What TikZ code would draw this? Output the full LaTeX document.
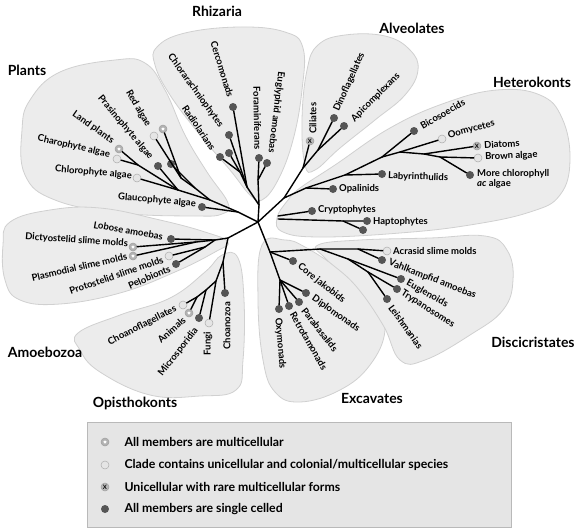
\documentclass[tikz,border=0pt]{standalone}
\usepackage{fontspec}
\setmainfont{Lato}
\usepackage{tikz}
\usetikzlibrary{shapes.geometric}
\definecolor{blob}{RGB}{236,236,236}
\definecolor{blobedge}{RGB}{208,208,208}
\definecolor{dot}{RGB}{85,85,85}
\definecolor{legendbg}{RGB}{229,229,229}
\tikzstyle{clade} = [fill=blob, draw=blobedge, line width=0.8pt]
\tikzstyle{branch} = [line width=1.4pt, line join=round, line cap=round]
\tikzstyle{single} = [circle, fill=dot, inner sep=0pt, minimum size=8pt]
\tikzstyle{mixed} = [circle, fill=gray!20, draw=gray!65, line width=0.5pt,
                 inner sep=0pt, minimum size=8pt]
\tikzstyle{multi} = [circle, fill=gray!60, draw=gray!75, line width=0.5pt,
                 inner sep=0pt, minimum size=8pt,
                 path picture={\node[star, star points=5, fill=white, inner sep=0pt,
                 minimum size=3.5pt] at (path picture bounding box.center) {};}]
\tikzstyle{rare} = [circle, fill=gray!55, draw=gray!75, line width=0.5pt,
                 inner sep=0pt, minimum size=8pt,
                 font=\fontsize{6}{6}\selectfont\bfseries]
\tikzstyle{lab} = [font=\fontsize{9.5}{10}\selectfont\bfseries, inner sep=1pt]
\tikzstyle{group} = [font=\fontsize{14}{15}\selectfont\bfseries]
\tikzstyle{key} = [font=\fontsize{12.3}{13}\selectfont\bfseries, anchor=west]

\begin{document}
\begin{tikzpicture}[x=1pt,y=-1pt]
\useasboundingbox (0,0) rectangle (583,531);

% clade backgrounds
\path [clade] plot[smooth cycle, tension=0.7] coordinates {(60,72) (115,60) (145,63)
    (165,90) (185,135) (207,172) (228,203) (222,214) (195,216) (120,213) (55,200)
    (25,175) (22,130) (30,100)};
\path [clade] plot[smooth cycle, tension=0.7] coordinates {(157,47) (185,33) (240,27)
    (285,32) (303,48) (302,90) (293,140) (278,180) (262,200) (250,195) (230,170)
    (200,135) (170,95) (155,65)};
\path [clade] plot[smooth cycle, tension=0.7] coordinates {(307,70) (318,45) (345,35)
    (385,36) (410,50) (418,70) (405,95) (375,120) (340,148) (315,170) (305,165)
    (302,120)};
\path [clade] plot[smooth cycle, tension=0.7] coordinates {(288,200) (300,188) (335,165)
    (390,128) (445,103) (497,90) (540,95) (562,118) (570,160) (560,195) (530,212)
    (470,225) (400,233) (320,237) (283,232) (277,218)};
\path [clade] plot[smooth cycle, tension=0.7] coordinates {(10,222) (50,210) (100,208)
    (160,220) (205,232) (228,242) (215,252) (175,272) (120,293) (60,304) (20,300)
    (5,280) (3,245)};
\path [clade] plot[smooth cycle, tension=0.7] coordinates {(78,333) (120,315) (170,298)
    (205,272) (222,255) (238,258) (244,300) (243,360) (236,390) (200,396) (150,395)
    (100,372) (80,350)};
\path [clade] plot[smooth cycle, tension=0.7] coordinates {(262,245) (285,240) (305,247)
    (340,270) (375,300) (385,330) (370,365) (340,390) (300,402) (275,392) (263,360)
    (258,300)};
\path [clade] plot[smooth cycle, tension=0.7] coordinates {(318,245) (360,240) (430,238)
    (485,236) (507,250) (513,280) (503,310) (470,335) (425,360) (400,360) (383,325)
    (355,285) (325,258)};

% group names
\node [group] (tplants) at (27,70) {Plants};
\node [group] (trhiz) at (217,11) {Rhizaria};
\node [group] (talv) at (412,28) {Alveolates};
\node [group] (thet) at (532,82) {Heterokonts};
\node [group] (tamoe) at (45,352) {Amoebozoa};
\node [group] (topis) at (135,403) {Opisthokonts};
\node [group] (texc) at (372,398) {Excavates};
\node [group] (tdisc) at (533,342) {Discicristates};

% inner points of the tree
\coordinate (root) at (258,222);
\coordinate (pl0) at (238,212);
\coordinate (plj) at (210,200);
\coordinate (rdj) at (195,188);
\coordinate (redj) at (181,178);
\coordinate (grn2) at (178,190);
\coordinate (grn1) at (138,165);
\coordinate (rh0) at (259,205);
\coordinate (rhf) at (258,180);
\coordinate (rhc) at (247,187);
\coordinate (rhr) at (240,172);
\coordinate (sar) at (284,198);
\coordinate (al0) at (303,168);
\coordinate (al1) at (318,150);
\coordinate (ht0) at (306,188);
\coordinate (ht1) at (345,175);
\coordinate (ht2) at (382,157);
\coordinate (ht3) at (400,152);
\coordinate (ht4) at (424,154);
\coordinate (ht5) at (440,157);
\coordinate (crb) at (278,216);
\coordinate (hpb) at (278,219);
\coordinate (hpj) at (343,221);
\coordinate (uni) at (228,238);
\coordinate (am0) at (215,240);
\coordinate (am1) at (196,242);
\coordinate (am2) at (205,247);
\coordinate (op0) at (223,262);
\coordinate (op1) at (216,281);
\coordinate (op2) at (206,290);
\coordinate (op3) at (197,297);
\coordinate (ex0) at (270,252);
\coordinate (ex1) at (280,280);
\coordinate (dc1) at (320,249);
\coordinate (dc2) at (358,249);
\coordinate (dc3) at (348,259);
\coordinate (dc4) at (368,272);

% leaves
\node [multi] (redS) at (163,129) {};
\node [mixed] (red) at (154,136) {};
\node [single] (prasA) at (158,166) {};
\node [single] (prasB) at (171,164) {};
\node [multi] (land) at (119,149) {};
\node [mixed] (charo) at (117,159) {};
\node [mixed] (chloro) at (137,178) {};
\node [single] (glauco) at (202,207) {};

\node [single] (cerco) at (233,107) {};
\node [single] (chlor) at (229,135) {};
\node [single] (radA) at (220,157) {};
\node [single] (radB) at (229,153) {};
\node [single] (foram) at (259,158) {};
\node [single] (eugly) at (267,163) {};

\node [rare] (cilia) at (310,141) {X};
\node [single] (dino) at (334,118) {};
\node [single] (apico) at (344,126) {};

\node [single] (opal) at (333,189) {};
\node [single] (laby) at (382,174) {};
\node [single] (bico) at (414,131) {};
\node [mixed] (oomy) at (442,139) {};
\node [rare] (diat) at (477,146) {X};
\node [mixed] (brown) at (478,158) {};
\node [single] (mchl) at (470,175) {};

\node [single] (crypto) at (312,211) {};
\node [single] (haptA) at (367,221) {};
\node [single] (haptB) at (363,230) {};

\node [single] (lobo) at (171,239) {};
\node [multi] (dicty) at (133,247) {};
\node [multi] (plasm) at (133,256) {};
\node [mixed] (proto) at (169,256) {};
\node [single] (pelo) at (176,264) {};

\node [single] (choz) at (225,293) {};
\node [mixed] (fungi) at (209,323) {};
\node [single] (micro) at (199,318) {};
\node [multi] (anim) at (189,313) {};
\node [mixed] (chfl) at (183,305) {};

\node [single] (core) at (293,261) {};
\node [single] (dipl) at (306,293) {};
\node [single] (para) at (299,302) {};
\node [single] (retro) at (289,306) {};
\node [single] (oxy) at (279,309) {};

\node [mixed] (acras) at (387,251) {};
\node [single] (vahl) at (382,260) {};
\node [single] (eugl) at (401,279) {};
\node [single] (tryp) at (397,289) {};
\node [single] (leish) at (387,299) {};

% branches
\draw [branch] (root) -- (pl0) -- (plj) -- (rdj) -- (redj) -- (redS);
\draw [branch] (redj) -- (red);
\draw [branch] (rdj) -- (prasB);
\draw [branch] (pl0) -- (glauco);
\draw [branch] (plj) -- (grn2) -- (grn1) -- (land);
\draw [branch] (grn1) -- (charo);
\draw [branch] (grn2) -- (prasA);
\draw [branch] (grn2) -- (chloro);

\draw [branch] (root) -- (rh0) -- (rhf) -- (foram);
\draw [branch] (rhf) -- (eugly);
\draw [branch] (rh0) -- (rhc) -- (cerco);
\draw [branch] (rhc) -- (chlor);
\draw [branch] (rhc) -- (rhr) -- (radA);
\draw [branch] (rhr) -- (radB);

\draw [branch] (root) -- (sar) -- (al0) -- (cilia);
\draw [branch] (al0) -- (al1) -- (dino);
\draw [branch] (al1) -- (apico);
\draw [branch] (sar) -- (ht0) -- (opal);
\draw [branch] (ht0) -- (ht1) -- (laby);
\draw [branch] (ht1) -- (ht2) -- (bico);
\draw [branch] (ht2) -- (ht3) -- (oomy);
\draw [branch] (ht3) -- (ht4) -- (diat);
\draw [branch] (ht4) -- (ht5) -- (brown);
\draw [branch] (ht5) -- (mchl);

\draw [branch] (crb) -- (crypto);
\draw [branch] (hpb) -- (hpj) -- (haptA);
\draw [branch] (hpj) -- (haptB);

\draw [branch] (root) -- (uni) -- (am0) -- (lobo);
\draw [branch] (am0) -- (am1) -- (dicty);
\draw [branch] (am1) -- (plasm);
\draw [branch] (am0) -- (am2) -- (proto);
\draw [branch] (am2) -- (pelo);
\draw [branch] (uni) -- (op0) -- (choz);
\draw [branch] (op0) -- (op1) -- (fungi);
\draw [branch] (op1) -- (op2) -- (micro);
\draw [branch] (op2) -- (op3) -- (anim);
\draw [branch] (op3) -- (chfl);

\draw [branch] (root) -- (ex0) -- (core);
\draw [branch] (ex0) -- (ex1) -- (dipl);
\draw [branch] (ex1) -- (para);
\draw [branch] (ex1) -- (retro);
\draw [branch] (ex1) -- (oxy);
\draw [branch] (ex0) -- (dc1) -- (dc2) -- (acras);
\draw [branch] (dc2) -- (vahl);
\draw [branch] (dc1) -- (dc3) -- (eugl);
\draw [branch] (dc3) -- (dc4) -- (tryp);
\draw [branch] (dc4) -- (leish);

% leaf names
\node [lab, anchor=east, rotate=-60] (lred) at (149,127) {Red algae};
\node [lab, anchor=east, rotate=-50] (lpras) at (152,159) {Prasinophyte algae};
\node [lab, anchor=east, rotate=-35] (lland) at (114,142) {Land plants};
\node [lab, anchor=east, rotate=-13] (lcharo) at (111,155) {Charophyte algae};
\node [lab, anchor=east, rotate=-5] (lchloro) at (133,176) {Chlorophyte algae};
\node [lab, anchor=east, rotate=-5] (lglauco) at (197,204) {Glaucophyte algae};

\node [lab, anchor=east, rotate=-73] (lcerco) at (231,98) {Cercomonads};
\node [lab, anchor=east, rotate=-54] (lchlor) at (222,127) {Chlorarachniophytes};
\node [lab, anchor=east, rotate=-56] (lrad) at (214,150) {Radiolarians};
\node [lab, anchor=east, rotate=-89] (lforam) at (258,151) {Foraminiferans};
\node [lab, anchor=east, rotate=-97] (leugly) at (271,154) {Euglyphid amoebas};

\node [lab, anchor=west, rotate=90] (lcilia) at (313,135) {Ciliates};
\node [lab, anchor=west, rotate=66] (ldino) at (336,112) {Dinoflagellates};
\node [lab, anchor=west, rotate=45] (lapico) at (352,121) {Apicomplexans};

\node [lab, anchor=west, rotate=30] (lbico) at (420,127) {Bicosoecids};
\node [lab, anchor=west, rotate=15] (loomy) at (447,136) {Oomycetes};
\node [lab, anchor=west, rotate=3] (ldiat) at (483,145) {Diatoms};
\node [lab, anchor=west, rotate=2] (lbrown) at (484,157) {Brown algae};
\node [lab, anchor=north west, align=left] (lmchl) at (476,168)
      {More chlorophyll\\\textit{ac} algae};
\node [lab, anchor=west, rotate=-2] (llaby) at (387,176) {Labyrinthulids};
\node [lab, anchor=west] (lopal) at (338,189) {Opalinids};
\node [lab, anchor=west] (lcrypto) at (317,210) {Cryptophytes};
\node [lab, anchor=west] (lhapt) at (372,222) {Haptophytes};

\node [lab, anchor=east, rotate=-10] (llobo) at (164,237) {Lobose amoebas};
\node [lab, anchor=east, rotate=-4] (ldicty) at (129,244) {Dictyostelid slime molds};
\node [lab, anchor=east, rotate=13] (lplasm) at (128,256) {Plasmodial slime molds};
\node [lab, anchor=east, rotate=19] (lproto) at (164,259) {Protostelid slime molds};
\node [lab, anchor=east, rotate=23] (lpelo) at (171,268) {Pelobionts};

\node [lab, anchor=east, rotate=27] (lchfl) at (177,308) {Choanoflagellates};
\node [lab, anchor=east, rotate=42] (lanim) at (185,318) {Animals};
\node [lab, anchor=east, rotate=52] (lmicro) at (197,328) {Microsporidia};
\node [lab, anchor=east, rotate=90] (lfungi) at (208,331) {Fungi};
\node [lab, anchor=east, rotate=90] (lchoz) at (227,301) {Choanozoa};

\node [lab, anchor=west, rotate=-38] (lcore) at (298,265) {Core jakobids};
\node [lab, anchor=west, rotate=-35] (ldipl) at (312,297) {Diplomonads};
\node [lab, anchor=west, rotate=-52] (lpara) at (303,308) {Parabasalids};
\node [lab, anchor=west, rotate=-60] (lretro) at (292,312) {Retrotamonads};
\node [lab, anchor=west, rotate=-85] (loxy) at (278,317) {Oxymonads};

\node [lab, anchor=west] (lacras) at (392,251) {Acrasid slime molds};
\node [lab, anchor=west, rotate=-21] (lvahl) at (388,262) {Vahlkampfid amoebas};
\node [lab, anchor=west, rotate=-29] (leugl) at (406,282) {Euglenoids};
\node [lab, anchor=west, rotate=-32] (ltryp) at (401,292) {Trypanosomes};
\node [lab, anchor=west, rotate=-54] (lleish) at (390,305) {Leishmanias};

% legend
\draw [fill=legendbg, draw=gray!55, line width=0.8pt] (87,422) rectangle (511,527);
\node [multi] (kmulti) at (105,442) {};
\node [mixed] (kmixed) at (105,465) {};
\node [rare] (krare) at (105,487) {X};
\node [single] (ksingle) at (105,509) {};
\node [key] (tmulti) at (121,442) {All members are multicellular};
\node [key] (tmixed) at (121,465) {Clade contains unicellular and colonial/multicellular species};
\node [key] (trare) at (121,487) {Unicellular with rare multicellular forms};
\node [key] (tsingle) at (121,509) {All members are single celled};

\end{tikzpicture}
\end{document}
